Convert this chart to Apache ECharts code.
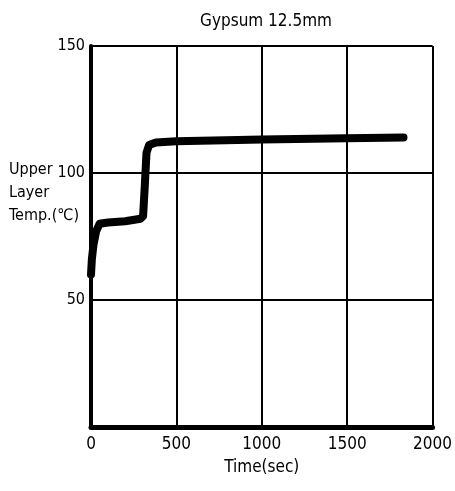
<!DOCTYPE html>
<html><head><meta charset="utf-8">
<script src="https://cdn.jsdelivr.net/npm/echarts@6/dist/echarts.min.js"></script>
<style>html,body{margin:0;padding:0;background:#fff}#c{width:455px;height:491px}</style>
</head><body><div id="c"></div>
<script>
const times = [0, 5, 15, 30, 50, 100, 200, 290, 305, 315, 325, 340, 380, 500, 1000, 1500, 1830];
const temps = [60, 66, 72, 77, 80, 80.5, 81, 82, 83, 95, 108, 111, 112, 112.5, 113.2, 113.7, 114];
const xTicks = [0, 500, 1000, 1500, 2000];
const yTicks = [0, 50, 100, 150];
const FONT = '"DejaVu Sans Condensed","Liberation Sans Narrow",sans-serif';
const chart = echarts.init(document.getElementById('c'));
chart.setOption({
  animation: false,
  backgroundColor: '#fff',
  title: {text: 'Gypsum 12.5mm', left: 261, top: 8, textAlign: 'center',
    textStyle: {fontFamily: FONT, fontSize: 17, fontWeight: 'normal', color: '#000'}},
  grid: {left: 91, right: 22, top: 46, bottom: 64},
  xAxis: {type: 'value', min: 0, max: 2000, interval: 500,
    name: 'Time(sec)', nameLocation: 'middle', nameGap: 32,
    nameTextStyle: {fontFamily: FONT, fontSize: 17, color: '#000'},
    axisLine: {lineStyle: {color: '#000', width: 5}},
    axisTick: {show: false},
    axisLabel: {fontFamily: FONT, fontSize: 17, color: '#000', margin: 9,
      formatter: v => xTicks.includes(v) ? String(v) : ''},
    splitLine: {show: true, lineStyle: {color: '#000', width: 2}}},
  yAxis: {type: 'value', min: 0, max: 150, interval: 50,
    axisLine: {show: true, lineStyle: {color: '#000', width: 4}},
    axisTick: {show: false},
    axisLabel: {fontFamily: FONT, fontSize: 16, color: '#000', margin: 6,
      formatter: v => (yTicks.includes(v) && v !== 0) ? String(v) : ''},
    splitLine: {show: true, lineStyle: {color: '#000', width: 2}}},
  graphic: [{type: 'text', left: 9, top: 158,
    style: {text: 'Upper\nLayer\nTemp.(℃)', fontFamily: FONT, fontSize: 16, lineHeight: 23, fill: '#000'}}],
  series: [{type: 'line', data: times.map((t, i) => [t, temps[i]]), showSymbol: false,
    lineStyle: {color: '#000', width: 8, cap: 'round', join: 'round'}}]
});
</script></body></html>
